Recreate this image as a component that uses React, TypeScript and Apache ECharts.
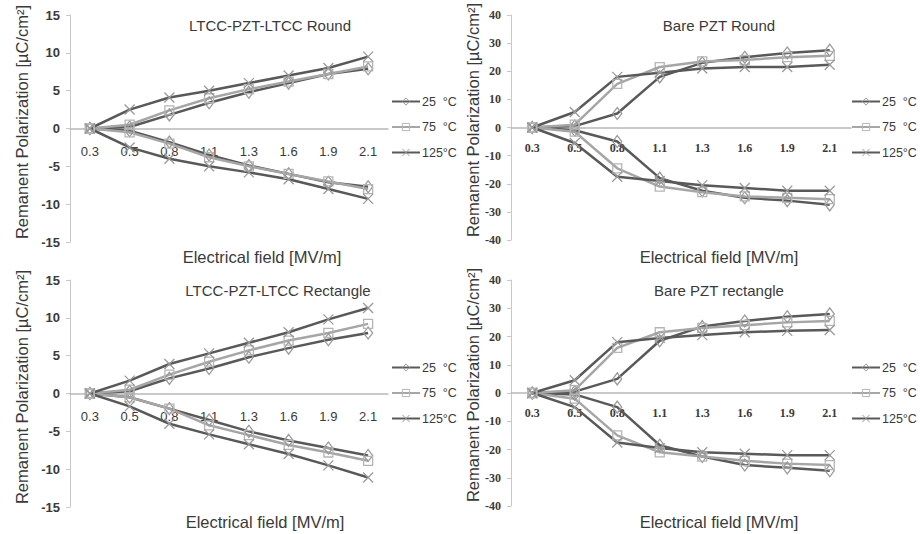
import React, { useEffect, useRef } from "react";
import * as echarts from "echarts";

const categories = ["0.3", "0.5", "0.8", "1.1", "1.3", "1.6", "1.9", "2.1"];
const seriesNames = ["25  °C", "75  °C", "125°C"];
const panelTitles = ["LTCC-PZT-LTCC Round", "Bare PZT Round", "LTCC-PZT-LTCC Rectangle", "Bare PZT rectangle"];
const xAxisTitle = "Electrical field [MV/m]";
const yAxisTitle = "Remanent Polarization [µC/cm²]";

// LTCC-PZT-LTCC Round
const ltccRound25Up = [0, 0.2, 1.8, 3.4, 4.8, 6.0, 7.2, 7.9];
const ltccRound25Down = [0, -0.3, -1.8, -3.5, -4.9, -6.0, -7.1, -7.7];
const ltccRound75Up = [0, 0.5, 2.4, 4.0, 5.2, 6.2, 7.2, 8.2];
const ltccRound75Down = [0, -0.5, -2.0, -3.8, -5.0, -6.0, -7.0, -8.0];
const ltccRound125Up = [0, 2.5, 4.1, 5.0, 6.0, 7.0, 8.0, 9.5];
const ltccRound125Down = [0, -2.5, -4.0, -5.0, -5.8, -6.7, -8.0, -9.3];

// Bare PZT Round
const bareRound25Up = [0, 0.5, 5, 18, 23, 25, 26.5, 27.5];
const bareRound25Down = [0, -1, -5, -18, -22.5, -25, -26, -27.5];
const bareRound75Up = [0, 1, 15.5, 21.5, 23.5, 24, 25, 25.5];
const bareRound75Down = [0, -1.5, -14.5, -21, -23, -24.5, -25, -25.5];
const bareRound125Up = [0, 5.5, 18, 19.5, 21, 21.5, 21.5, 22.3];
const bareRound125Down = [0, -5.5, -17.5, -19, -20.5, -21.5, -22.5, -22.5];

// LTCC-PZT-LTCC Rectangle
const ltccRect25Up = [0, 0.3, 2.0, 3.3, 4.8, 6.0, 7.1, 8.0];
const ltccRect25Down = [0, -0.5, -2.0, -3.5, -5.0, -6.2, -7.2, -8.2];
const ltccRect75Up = [0, 0.5, 2.5, 4.2, 5.7, 7.0, 8.0, 9.2];
const ltccRect75Down = [0, -0.5, -2.0, -4.2, -5.5, -6.8, -7.8, -8.9];
const ltccRect125Up = [0, 1.7, 3.9, 5.3, 6.7, 8.1, 9.8, 11.3];
const ltccRect125Down = [0, -1.7, -4.0, -5.4, -6.7, -8.0, -9.5, -11.1];

// Bare PZT rectangle
const bareRect25Up = [0, 0.5, 5, 18.5, 23.5, 25.5, 27, 28];
const bareRect25Down = [0, -0.5, -5, -18.5, -22.5, -25.5, -26.5, -27.5];
const bareRect75Up = [0, 1, 16, 21.5, 23, 24, 25, 25.5];
const bareRect75Down = [0, -2, -15, -21, -22.5, -24, -25, -25.5];
const bareRect125Up = [0, 4.5, 18, 19.5, 20.5, 21.5, 22, 22.3];
const bareRect125Down = [0, -5, -17.5, -19.5, -21, -21.5, -22, -22];

const panelData = [
  [[ltccRound25Up, ltccRound25Down], [ltccRound75Up, ltccRound75Down], [ltccRound125Up, ltccRound125Down]],
  [[bareRound25Up, bareRound25Down], [bareRound75Up, bareRound75Down], [bareRound125Up, bareRound125Down]],
  [[ltccRect25Up, ltccRect25Down], [ltccRect75Up, ltccRect75Down], [ltccRect125Up, ltccRect125Down]],
  [[bareRect25Up, bareRect25Down], [bareRect75Up, bareRect75Down], [bareRect125Up, bareRect125Down]],
];

const SANS = "'Liberation Sans', Arial, sans-serif";
const SERIF = "'Liberation Serif', 'DejaVu Serif', serif";
const TEXT = "#3a3a3a";

const grids = [
  { left: 70, top: 15, width: 318, height: 227 },
  { left: 511, top: 15, width: 340, height: 225 },
  { left: 70, top: 280, width: 318, height: 227 },
  { left: 511, top: 280, width: 340, height: 226 },
];
const yRanges = [
  { min: -15, max: 15, interval: 5 },
  { min: -40, max: 40, interval: 10 },
  { min: -15, max: 15, interval: 5 },
  { min: -40, max: 40, interval: 10 },
];
const isBare = [false, true, false, true];

const lineColors = ["#595959", "#a6a6a6", "#595959"];
const markerColors = ["#9a9a9a", "#b5b5b5", "#9a9a9a"];
const symbols = ["diamond", "rect", "path://M0,0 L10,10 M10,0 L0,10"];
const symbolSizes: any[] = [[9, 12], 9, 10];

export default function App() {
  const ref = useRef<HTMLDivElement>(null);
  useEffect(() => {
    if (!ref.current) return;
    const chart = echarts.init(ref.current, null, { renderer: "svg" });

    const series: any[] = [];
    panelData.forEach((panel, gi) => {
      panel.forEach((pair, ti) => {
        pair.forEach((vals) => {
          series.push({
            type: "line",
            name: seriesNames[ti],
            xAxisIndex: gi,
            yAxisIndex: gi,
            data: vals,
            symbol: symbols[ti],
            symbolSize: symbolSizes[ti],
            showAllSymbol: true,
            lineStyle: { color: lineColors[ti], width: 2.5 },
            itemStyle: {
              color: "rgba(255,255,255,0)",
              borderColor: markerColors[ti],
              borderWidth: 1.3,
            },
            emphasis: { disabled: true },
          });
        });
      });
    });

    const graphic: any[] = [];
    const titlePos = [
      [270, 25],
      [719, 25],
      [278, 290],
      [719, 290],
    ];
    const xNamePos = [
      [262, 257],
      [719, 257],
      [265, 522],
      [719, 522],
    ];
    const yNamePos = [
      [22, 122],
      [473, 120],
      [22, 387],
      [473, 385],
    ];
    for (let i = 0; i < 4; i++) {
      graphic.push({
        type: "text",
        x: titlePos[i][0],
        y: titlePos[i][1],
        style: { text: panelTitles[i], fill: TEXT, font: `15px ${SANS}`, textAlign: "center", textVerticalAlign: "middle" },
      });
      graphic.push({
        type: "text",
        x: xNamePos[i][0],
        y: xNamePos[i][1],
        style: { text: xAxisTitle, fill: TEXT, font: `16.5px ${SANS}`, textAlign: "center", textVerticalAlign: "middle" },
      });
      graphic.push({
        type: "text",
        x: yNamePos[i][0],
        y: yNamePos[i][1],
        rotation: Math.PI / 2,
        style: { text: yAxisTitle, fill: TEXT, font: `16.5px ${SANS}`, textAlign: "center", textVerticalAlign: "middle" },
      });
    }

    const legendPos = [
      [391, 95],
      [851, 95],
      [391, 361],
      [851, 361],
    ];

    chart.setOption({
      animation: false,
      backgroundColor: "#ffffff",
      grid: grids.map((g) => ({ ...g, containLabel: false })),
      xAxis: grids.map((g, i) => ({
        type: "category",
        gridIndex: i,
        data: categories,
        boundaryGap: true,
        position: "bottom",
        offset: -g.height / 2,
        axisLine: { onZero: false, lineStyle: { color: "#b8b8b8", width: 1.5 } },
        axisTick: { show: false },
        splitLine: { show: false },
        axisLabel: {
          margin: isBare[i] ? 14 : 16,
          color: TEXT,
          fontFamily: isBare[i] ? SERIF : SANS,
          fontWeight: isBare[i] ? "bold" : "normal",
          fontSize: isBare[i] ? 12 : 13,
          interval: 0,
        },
      })),
      yAxis: grids.map((_, i) => ({
        type: "value",
        gridIndex: i,
        min: yRanges[i].min,
        max: yRanges[i].max,
        interval: yRanges[i].interval,
        axisLine: { show: true, onZero: false, lineStyle: { color: "#c8c8c8", width: 1 } },
        axisTick: { show: true, length: 4, lineStyle: { color: "#c8c8c8" } },
        splitLine: { show: false },
        axisLabel: {
          margin: 10,
          color: TEXT,
          fontFamily: isBare[i] ? SERIF : SANS,
          fontWeight: "bold",
          fontSize: isBare[i] ? 12 : 13,
        },
      })),
      legend: legendPos.map((p) => ({
        orient: "vertical",
        left: p[0],
        top: p[1],
        padding: 0,
        itemWidth: 28,
        itemHeight: 9,
        itemGap: 12.5,
        data: seriesNames,
        selectedMode: false,
        itemStyle: { color: "rgba(255,255,255,0)", borderWidth: 1 },
        textStyle: { color: TEXT, fontFamily: SANS, fontSize: 12.5, padding: [0, 0, 0, -3] },
      })),
      graphic,
      series,
    });

    return () => chart.dispose();
  }, []);

  return (
    <div
      ref={ref}
      style={{ position: "absolute", left: 0, top: 0, width: 922, height: 534 }}
    />
  );
}
